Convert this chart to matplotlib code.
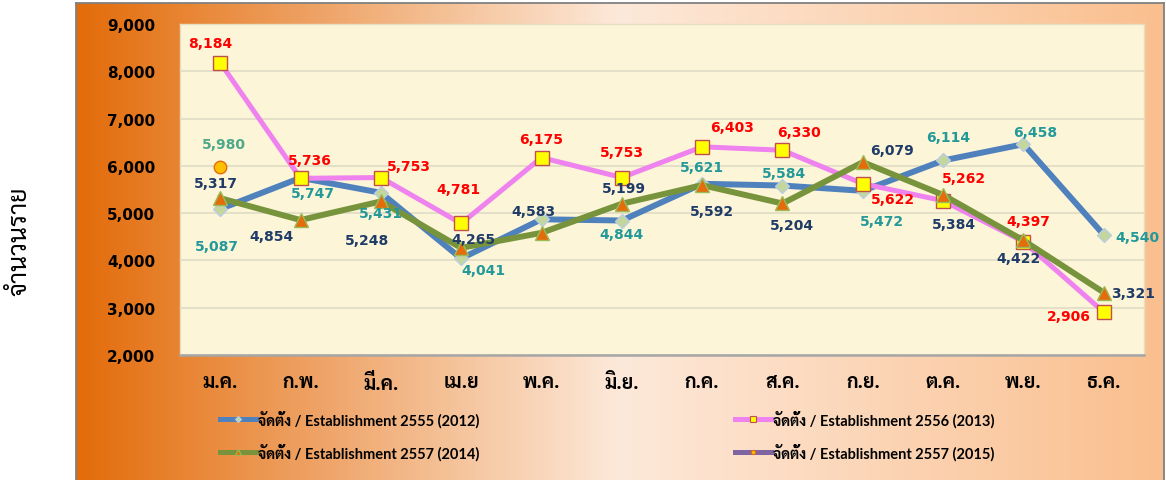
import numpy as np
import matplotlib
matplotlib.use("Agg")
import matplotlib.pyplot as plt
from matplotlib import font_manager
from matplotlib.colors import LinearSegmentedColormap
from matplotlib.lines import Line2D

# ข้อมูล (จำนวนราย ต่อเดือน)
months = ["ม.ค.", "ก.พ.", "มี.ค.", "เม.ย", "พ.ค.", "มิ.ย.", "ก.ค.", "ส.ค.", "ก.ย.", "ต.ค.", "พ.ย.", "ธ.ค."]
est_2012 = [5087, 5747, 5431, 4041, 4870, 4844, 5621, 5584, 5472, 6114, 6458, 4540]
est_2013 = [8184, 5736, 5753, 4781, 6175, 5753, 6403, 6330, 5622, 5262, 4397, 2906]
est_2014 = [5317, 4854, 5248, 4265, 4583, 5199, 5592, 5204, 6079, 5384, 4422, 3321]
est_2015 = [5980]
series_names = ["จัดตั้ง / Establishment 2555 (2012)", "จัดตั้ง / Establishment 2556 (2013)",
                "จัดตั้ง / Establishment 2557 (2014)", "จัดตั้ง / Establishment 2557 (2015)"]
y_ticks = [2000, 3000, 4000, 5000, 6000, 7000, 8000, 9000]

# décalage des étiquettes (pixels), None = pas d'étiquette
off_2012 = [(-3, -37), (12, -15), (0, -20), (22, -12), None, (0, -13),
            (0, 17), (2, 13), (19, -30), (5, 23), (12, 12), (34, -2)]
off_2013 = [(-10, 20), (9, 18), (28, 12), (-3, 34), (0, 19), (0, 26),
            (30, 20), (17, 18), (30, -15), (21, 23), (5, 21), (-35, -4)]
off_2014 = [(-4, 15), (-29, -16), (-14, -39), (12, 9), (-8, 22), (2, 16),
            (10, -26), (9, -22), (29, 12), (11, -29), (-5, -18), (29, 0)]
off_2015 = [(4, 23)]

# police thaï disponible
installed = {f.name for f in font_manager.fontManager.ttflist}
thai = next((f for f in ["Sarabun", "Noto Sans Thai", "Noto Sans Thai Looped", "Tahoma",
                         "Loma", "Garuda", "Bai Jamjuree", "Athiti"] if f in installed), "DejaVu Sans")
THAI = [thai, "DejaVu Sans"]
TXT = ["Lato", thai, "DejaVu Sans"]

W, H = 1166, 481
fig = plt.figure(figsize=(W / 100, H / 100), dpi=100)

# fond dégradé de la zone du graphique
bg = fig.add_axes([76 / W, 0, (1164 - 76) / W, 1 - 4 / H])
cmap = LinearSegmentedColormap.from_list(
    "bg", [(0, "#E36C0A"), (0.5, "#FDE9DA"), (1, "#FABF8E")])
bg.imshow(np.linspace(0, 1, 256)[None, :], aspect="auto", cmap=cmap, extent=[0, 1, 0, 1])
bg.set_xticks([])
bg.set_yticks([])
for s in ["left", "top", "right"]:
    bg.spines[s].set_color("#808080")
    bg.spines[s].set_linewidth(1.3)
bg.spines["bottom"].set_visible(False)

ax = fig.add_axes([180 / W, 1 - 356 / H, (1144 - 180) / W, (356 - 25) / H])
ax.set_facecolor("#FDF5D7")
x = np.arange(len(months))

l1, = ax.plot(x, est_2012, color="#4F81BD", lw=4.3, marker="D", ms=7,
              mfc="#C3D69B", mec="#B9CDE5", mew=1, zorder=3)
l2, = ax.plot(x, est_2013, color="#EE82EE", lw=3.6, marker="s", ms=9.5,
              mfc="#FFFF00", mec="#C0504D", mew=1, zorder=4)
l3, = ax.plot(x, est_2014, color="#77933C", lw=4.3, marker="^", ms=10.5,
              mfc="#E46C0A", mec="#9BBB59", mew=1, zorder=5)
l4, = ax.plot(x[:len(est_2015)], est_2015, color="#8064A2", lw=4, marker="o", ms=9,
              mfc="#FFC000", mec="#E46C0A", mew=1, zorder=6)

def labels(vals, offs, color):
    for i, (v, o) in enumerate(zip(vals, offs)):
        if o is None:
            continue
        ax.annotate(f"{v:,}", (x[i], v), xytext=o, textcoords="offset pixels",
                    ha="center", va="center", color=color, fontsize=10,
                    fontweight="bold", zorder=10, annotation_clip=False)

labels(est_2012, off_2012, "#23999A")
labels(est_2013, off_2013, "#FF0000")
labels(est_2014, off_2014, "#1F3B68")
labels(est_2015, off_2015, "#4DA88A")

ax.set_xlim(-0.5, len(months) - 0.5)
ax.set_ylim(2000, 9000)
ax.set_yticks(y_ticks)
ax.set_yticklabels([f"{v:,}" for v in y_ticks], fontsize=11, fontweight="bold")
ax.set_xticks(x)
ax.set_xticklabels(months, family=THAI, fontsize=14, fontweight="bold")
ax.tick_params(axis="y", length=0, pad=18)
ax.tick_params(axis="x", length=0, pad=13)
ax.grid(axis="y", color="#DDD9C3", lw=1.1)
ax.set_axisbelow(True)
for s in ["left", "top", "right"]:
    ax.spines[s].set_color("#E6DEC0")
    ax.spines[s].set_linewidth(1)
ax.spines["bottom"].set_color("#A6A6A6")
ax.spines["bottom"].set_linewidth(1.8)

fig.text(20 / W, 1 - 241 / H, "จำนวนราย", rotation=90, ha="center", va="center",
         family=THAI, fontsize=18)

# légende en deux colonnes
def handle(line, ms):
    return Line2D([], [], color=line.get_color(), lw=3.6, marker=line.get_marker(), ms=ms,
                  mfc=line.get_markerfacecolor(), mec=line.get_markeredgecolor(), mew=0.8)

kw = dict(frameon=False, loc="upper left", borderpad=0, borderaxespad=0,
          handlelength=2.5, handletextpad=0.1, labelspacing=1.05,
          prop={"family": TXT, "weight": "bold", "size": 10.5})
fig.legend([handle(l1, 3), handle(l3, 4)], [series_names[0], series_names[2]],
           bbox_to_anchor=(220 / W, 1 - 411 / H), **kw)
fig.legend([handle(l2, 4), handle(l4, 3)], [series_names[1], series_names[3]],
           bbox_to_anchor=(735 / W, 1 - 411 / H), **kw)

fig.savefig("out.png", dpi=100)
